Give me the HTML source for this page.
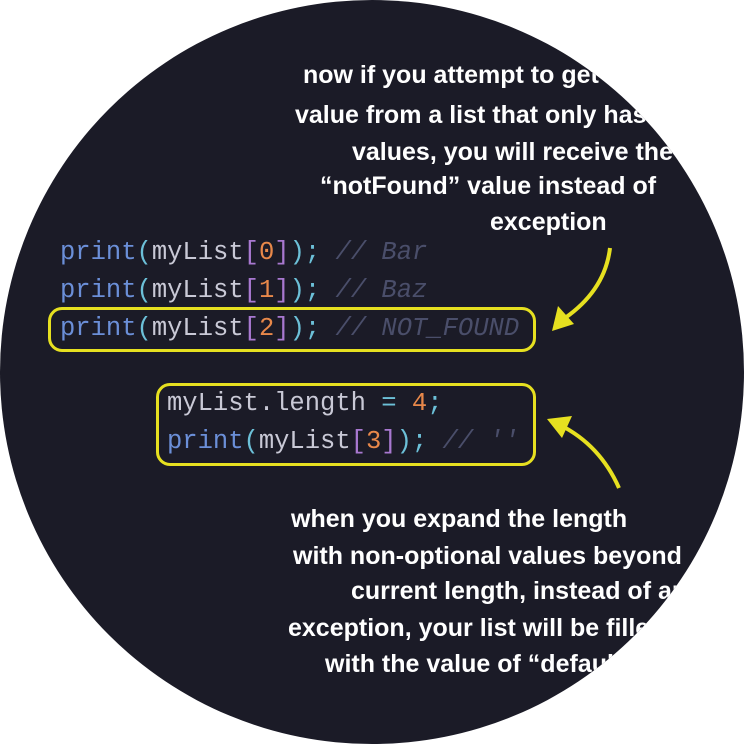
<!DOCTYPE html>
<html><head><style>
html,body{margin:0;padding:0;background:#fff}
.c{position:absolute;left:0;top:0;width:744px;height:744px;border-radius:50%;background:#1b1b27;overflow:hidden}
.t{position:absolute;left:0;width:744px;font:bold 25px "Liberation Sans",sans-serif;color:#fff;white-space:nowrap}
.t div{position:absolute;height:36px;line-height:36px}
.code{position:absolute;font:25.5px "Liberation Mono",monospace;white-space:pre;line-height:38px}
.f{color:#6b8fd8}.p{color:#6cc0d8}.v{color:#c9c9d6}.b{color:#a878d0}.n{color:#e8884a}.cm{color:#4a4e6a;font-style:italic}
.box{position:absolute;border:3px solid #e6e020;border-radius:14px}
</style></head><body>
<div class="c">
<div class="t">
<div style="left:303px;top:57px">now if you attempt to get a</div>
<div style="left:295px;top:97px">value from a list that only has</div>
<div style="left:352px;top:134px">values, you will receive the</div>
<div style="left:320px;top:168px">“notFound” value instead of</div>
<div style="left:490px;top:204px">exception</div>
<div style="left:291px;top:501px">when you expand the length</div>
<div style="left:293px;top:538px">with non-optional values beyond</div>
<div style="left:351px;top:573px">current length, instead of an</div>
<div style="left:288px;top:610px">exception, your list will be filled</div>
<div style="left:325px;top:646px">with the value of “default”</div>
</div>
<div class="code" style="left:60px;top:234px"><span class="f">print</span><span class="p">(</span><span class="v">myList</span><span class="b">[</span><span class="n">0</span><span class="b">]</span><span class="p">);</span> <span class="cm">// Bar</span>
<span class="f">print</span><span class="p">(</span><span class="v">myList</span><span class="b">[</span><span class="n">1</span><span class="b">]</span><span class="p">);</span> <span class="cm">// Baz</span>
<span class="f">print</span><span class="p">(</span><span class="v">myList</span><span class="b">[</span><span class="n">2</span><span class="b">]</span><span class="p">);</span> <span class="cm">// NOT_FOUND</span></div>
<div class="code" style="left:167px;top:385px"><span class="v">myList.length</span> <span class="p">=</span> <span class="n">4</span><span class="p">;</span>
<span class="f">print</span><span class="p">(</span><span class="v">myList</span><span class="b">[</span><span class="n">3</span><span class="b">]</span><span class="p">);</span> <span class="cm">// ''</span></div>
<div class="box" style="left:48px;top:307px;width:482px;height:39px"></div>
<div class="box" style="left:156px;top:383px;width:374px;height:77px"></div>
<svg width="744" height="744" style="position:absolute;left:0;top:0">
<path d="M610 248 Q605 290 565 318" stroke="#e6e020" stroke-width="4" fill="none"/>
<polygon points="552,331 558,306 574,324" fill="#e6e020"/>
<path d="M619 488 Q600 445 560 425" stroke="#e6e020" stroke-width="4" fill="none"/>
<polygon points="547,419 572,416 562,438" fill="#e6e020"/>
</svg>
</div>
</body></html>
